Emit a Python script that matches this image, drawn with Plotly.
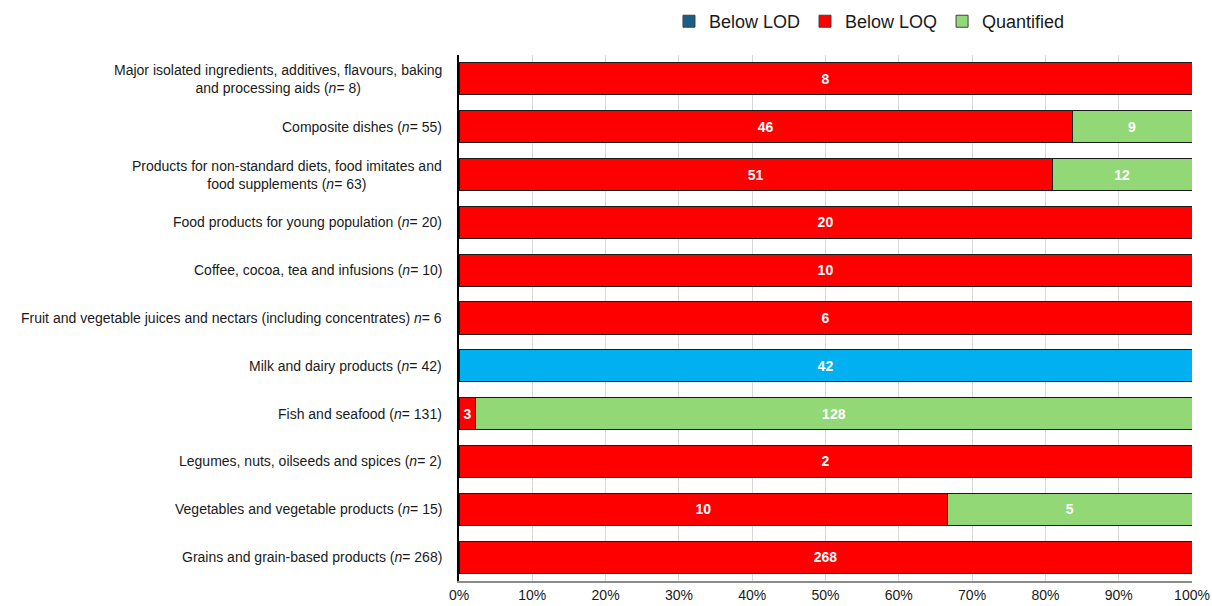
import plotly.graph_objects as go

categories = [
    "Major isolated ingredients, additives, flavours, baking<br>and processing aids (<i>n</i>= 8)",
    "Composite dishes (<i>n</i>= 55)",
    "Products for non-standard diets, food imitates and<br>food supplements (<i>n</i>= 63)",
    "Food products for young population (<i>n</i>= 20)",
    "Coffee, cocoa, tea and infusions (<i>n</i>= 10)",
    "Fruit and vegetable juices and nectars (including concentrates) <i>n</i>= 6",
    "Milk and dairy products (<i>n</i>= 42)",
    "Fish and seafood (<i>n</i>= 131)",
    "Legumes, nuts, oilseeds and spices (<i>n</i>= 2)",
    "Vegetables and vegetable products (<i>n</i>= 15)",
    "Grains and grain-based products (<i>n</i>= 268)",
]
below_lod = [None, None, None, None, None, None, 42, None, None, None, None]
below_loq = [8, 46, 51, 20, 10, 6, None, 3, 2, 10, 268]
quantified = [None, 9, 12, None, None, None, None, 128, None, 5, None]
x_ticks = [0, 10, 20, 30, 40, 50, 60, 70, 80, 90, 100]
x_tick_labels = ["0%", "10%", "20%", "30%", "40%", "50%", "60%", "70%", "80%", "90%", "100%"]

FONT = "Liberation Sans, Arial, sans-serif"
outline = dict(color="#1a1a1a", width=1)
txt = dict(color="white", size=14, family=FONT)

def labels(vals):
    return ["" if v is None else f"<b>{v}</b>" for v in vals]

fig = go.Figure()
fig.add_trace(go.Bar(
    y=categories, x=below_lod, orientation="h", name="Below LOD",
    marker=dict(color="#00B0F0", line=outline), showlegend=False,
    text=labels(below_lod), textposition="inside", insidetextanchor="middle",
    textfont=txt, legendgroup="lod"))
fig.add_trace(go.Bar(
    y=categories, x=below_loq, orientation="h", name="Below LOQ",
    marker=dict(color="#FF0000", line=outline), showlegend=False,
    text=labels(below_loq), textposition="inside", insidetextanchor="middle",
    textfont=txt, legendgroup="loq"))
fig.add_trace(go.Bar(
    y=categories, x=quantified, orientation="h", name="Quantified",
    marker=dict(color="#92D877", line=outline), showlegend=False,
    text=labels(quantified), textposition="inside", insidetextanchor="middle",
    textfont=txt, legendgroup="q"))

# legend entries
for name, col in [("Below LOD", "#1B5E85"), ("Below LOQ", "#FF0000"), ("Quantified", "#92D877")]:
    fig.add_trace(go.Bar(y=[categories[0]], x=[None], orientation="h", name=name,
                         marker=dict(color=col, line=dict(color="#404040", width=1)),
                         showlegend=True))

annotations = []
for c in categories:
    annotations.append(dict(
        x=-0.02, xref="paper", y=c, yref="y", text=c, showarrow=False,
        xanchor="right", yanchor="middle", align="center",
        font=dict(family=FONT, size=14, color="#1a1a1a")))

fig.update_layout(
    barmode="stack", barnorm="percent", bargap=0.33,
    width=1212, height=606,
    margin=dict(l=459, r=20, t=55, b=25),
    paper_bgcolor="white", plot_bgcolor="white",
    font=dict(family=FONT, color="#1a1a1a"),
    legend=dict(orientation="h", x=0.56, xanchor="center", y=0.995, yref="container",
                yanchor="top", font=dict(size=18, family=FONT, color="#1a1a1a"),
                traceorder="normal", itemwidth=30),
    annotations=annotations,
)
fig.update_xaxes(range=[0, 100], tickvals=x_ticks, ticktext=x_tick_labels,
                 showgrid=True, gridcolor="#D9D9D9", gridwidth=1,
                 showline=True, linecolor="#8C8C8C", linewidth=1.5,
                 tickfont=dict(size=14, family=FONT, color="#1a1a1a"),
                 automargin=False, zeroline=False, fixedrange=True)
fig.update_yaxes(autorange="reversed", showticklabels=False, showline=True,
                 linecolor="black", linewidth=1.5, showgrid=False,
                 automargin=False, zeroline=False, ticks="")

fig.write_html("out.html")
